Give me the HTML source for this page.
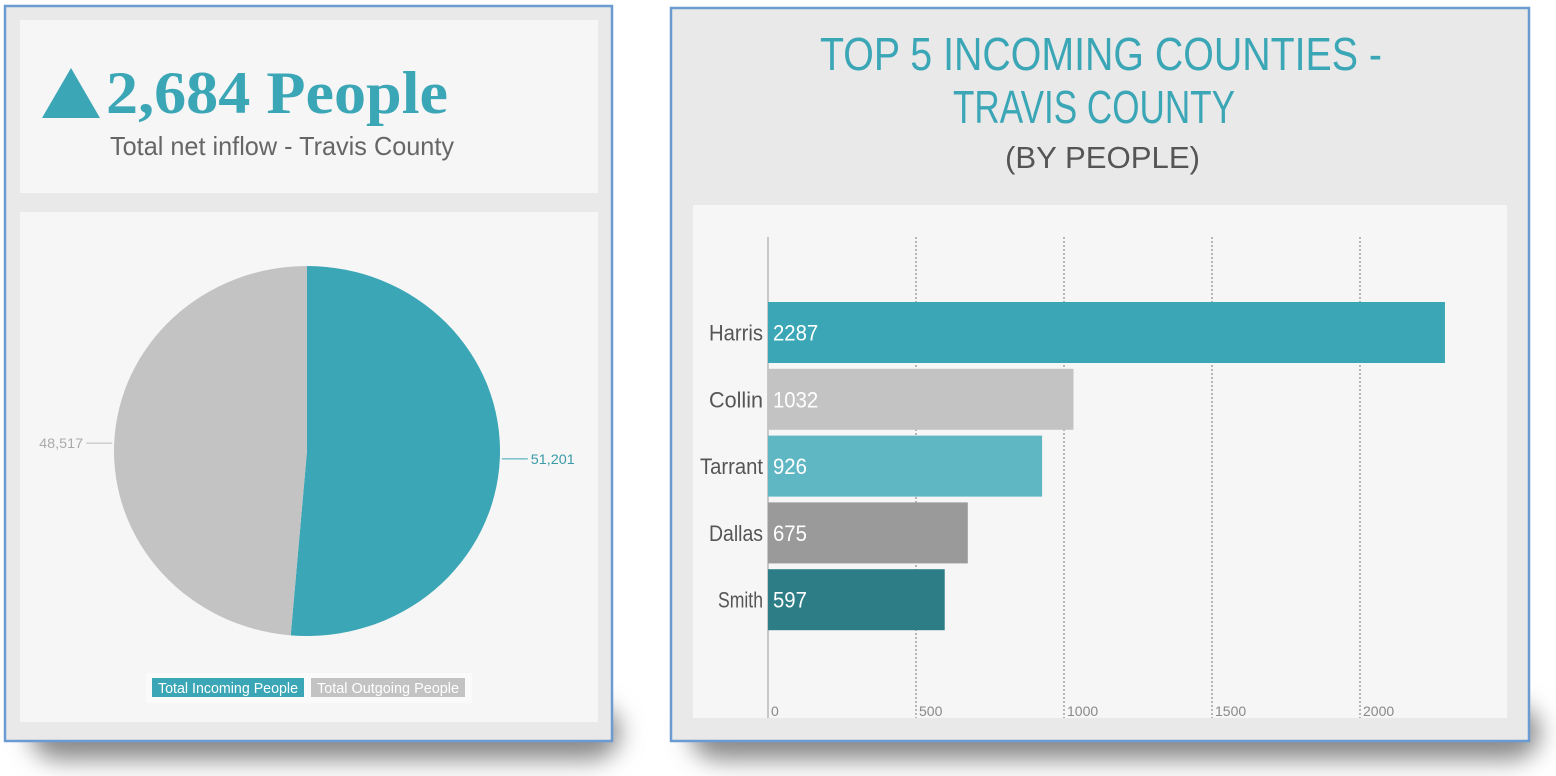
<!DOCTYPE html>
<html><head><meta charset="utf-8"><style>
html,body{margin:0;padding:0;background:#fff;width:1556px;height:776px;overflow:hidden}
svg{display:block}
text{font-family:"Liberation Sans",sans-serif}
</style></head><body>
<svg id="root" width="1556" height="776" viewBox="0 0 1556 776">
<defs>
<filter id="sh" x="-20%" y="-50%" width="140%" height="200%"><feGaussianBlur stdDeviation="12"/></filter>
</defs>
<rect x="30" y="705" width="590" height="55" rx="30" fill="#8a8a8a" filter="url(#sh)"/>
<rect x="690" y="705" width="850" height="55" rx="30" fill="#8a8a8a" filter="url(#sh)"/>

<g>
<rect x="5" y="6" width="607" height="735" fill="#e9e9e9" stroke="#6b9bd1" stroke-width="2.5"/>
<rect x="20" y="20" width="578" height="173" fill="#f6f6f6"/>
<polygon points="42,118 71,68 100,118" fill="#3aa6b6"/>
<text x="106" y="113" font-weight="bold" font-size="60" fill="#3aa6b6" textLength="342" lengthAdjust="spacingAndGlyphs" style="font-family:'Liberation Serif',serif">2,684 People</text>
<text x="110" y="155" font-size="26" fill="#666" textLength="344" lengthAdjust="spacingAndGlyphs">Total net inflow - Travis County</text>
<rect x="20" y="212" width="578" height="510" fill="#f6f6f6"/>
<g id="pie"></g>
<g>
<rect x="146" y="673" width="326" height="30" fill="#fafafa"/>
<g>
<rect x="152" y="678" width="152" height="19" fill="#3aa6b6"/>
<text x="158" y="693" font-size="15" fill="#fff" textLength="140" lengthAdjust="spacingAndGlyphs">Total Incoming People</text></g>
<g>
<rect x="311" y="678" width="154" height="19" fill="#c3c3c3"/>
<text x="317" y="693" font-size="15" fill="#fff" textLength="142" lengthAdjust="spacingAndGlyphs">Total Outgoing People</text></g>
</g>
</g>

<g>
<rect x="671" y="8" width="858" height="733" fill="#e9e9e9" stroke="#6b9bd1" stroke-width="2.5"/>
<text x="820" y="70" font-size="46" fill="#3aa6b6" textLength="562" lengthAdjust="spacingAndGlyphs">TOP 5 INCOMING COUNTIES -</text>
<text x="953" y="123" font-size="46" fill="#3aa6b6" textLength="282" lengthAdjust="spacingAndGlyphs">TRAVIS COUNTY</text>
<text x="1005" y="168" font-size="31" fill="#555" textLength="195" lengthAdjust="spacingAndGlyphs">(BY PEOPLE)</text>
<rect x="693" y="205" width="814" height="513" fill="#f6f6f6"/>
<g id="bars"></g>
</g>
</svg>
<script>
const NS='http://www.w3.org/2000/svg';
function mk(tag,attrs,parent){const e=document.createElementNS(NS,tag);for(const k in attrs)e.setAttribute(k,attrs[k]);parent.appendChild(e);return e;}

// Pie data
const pieLabels=['Total Incoming People','Total Outgoing People'];
const pieValues=[51201,48517];
const pieColors=['#3aa6b6','#c3c3c3'];

// Bar data
const counties=['Harris','Collin','Tarrant','Dallas','Smith'];
const countyValues=[2287,1032,926,675,597];
const tickValues=[0,500,1000,1500,2000];
const barColors=['#3aa6b6','#c3c3c3','#5fb7c4','#9a9a9a','#2d7d87'];

(function(){
  const g=document.getElementById('pie');
  const cx=307,cy=451,rx=193,ry=185;
  const total=pieValues.reduce((a,b)=>a+b,0);
  let a0=-Math.PI/2;
  pieValues.forEach((v,i)=>{
    const a1=a0+v/total*2*Math.PI;
    const large=(a1-a0)>Math.PI?1:0;
    const x0=cx+rx*Math.cos(a0),y0=cy+ry*Math.sin(a0),x1=cx+rx*Math.cos(a1),y1=cy+ry*Math.sin(a1);
    const p=mk('path',{d:`M${cx},${cy} L${x0},${y0} A${rx},${ry} 0 ${large} 1 ${x1},${y1} Z`,fill:pieColors[i]},g);
    
    
    const am=(a0+a1)/2;
    const dir=Math.cos(am)>=0?1:-1;
    const ex=cx+(rx+2)*Math.cos(am),ey=cy+(ry+2)*Math.sin(am);
    const ln=mk('line',{x1:ex,y1:ey,x2:ex+dir*26,y2:ey,stroke:i===0?'#3aa6b6':'#bbb','stroke-width':1},g);
    
    
    const t=mk('text',{x:ex+dir*29,y:ey+5,'font-size':14,fill:i===0?'#3a9aa8':'#aaa','text-anchor':dir>0?'start':'end',textLength:44,lengthAdjust:'spacingAndGlyphs'},g);
    t.textContent=v.toLocaleString('en-US');
    
    
    a0=a1;
  });
})();

(function(){
  const g=document.getElementById('bars');
  const x0=768,pxPer=148/500;
  const xs=v=>x0+v*pxPer;
  const top=302,band=66.8,bh=61;
  tickValues.forEach(t=>{
    const x=xs(t);
    const l=mk('line',{x1:x,y1:237,x2:x,y2:718,stroke:t===0?'#999':'#777','stroke-width':1,'stroke-dasharray':t===0?'none':'2,2'},g);
    
    
    const tx=mk('text',{x:x+3,y:716,'font-size':14,fill:'#888',textLength:String(t).length*7.8,lengthAdjust:'spacingAndGlyphs'},g);
    tx.textContent=t;
    
    
  });
  counties.forEach((c,i)=>{
    const y=top+i*band;
    const r=mk('rect',{x:x0,y:y,width:xs(countyValues[i])-x0,height:bh,fill:barColors[i]},g);
    
    
    const lb=mk('text',{x:763,y:y+bh/2+8,'font-size':22,fill:'#555','text-anchor':'end',textLength:c.length*9,lengthAdjust:'spacingAndGlyphs'},g);
    lb.textContent=c;
    
    
    const vl=mk('text',{x:773,y:y+bh/2+8,'font-size':22,fill:'#fff',textLength:String(countyValues[i]).length*11.3,lengthAdjust:'spacingAndGlyphs'},g);
    vl.textContent=countyValues[i];
    
    
  });
})();
</script>
</body></html>
